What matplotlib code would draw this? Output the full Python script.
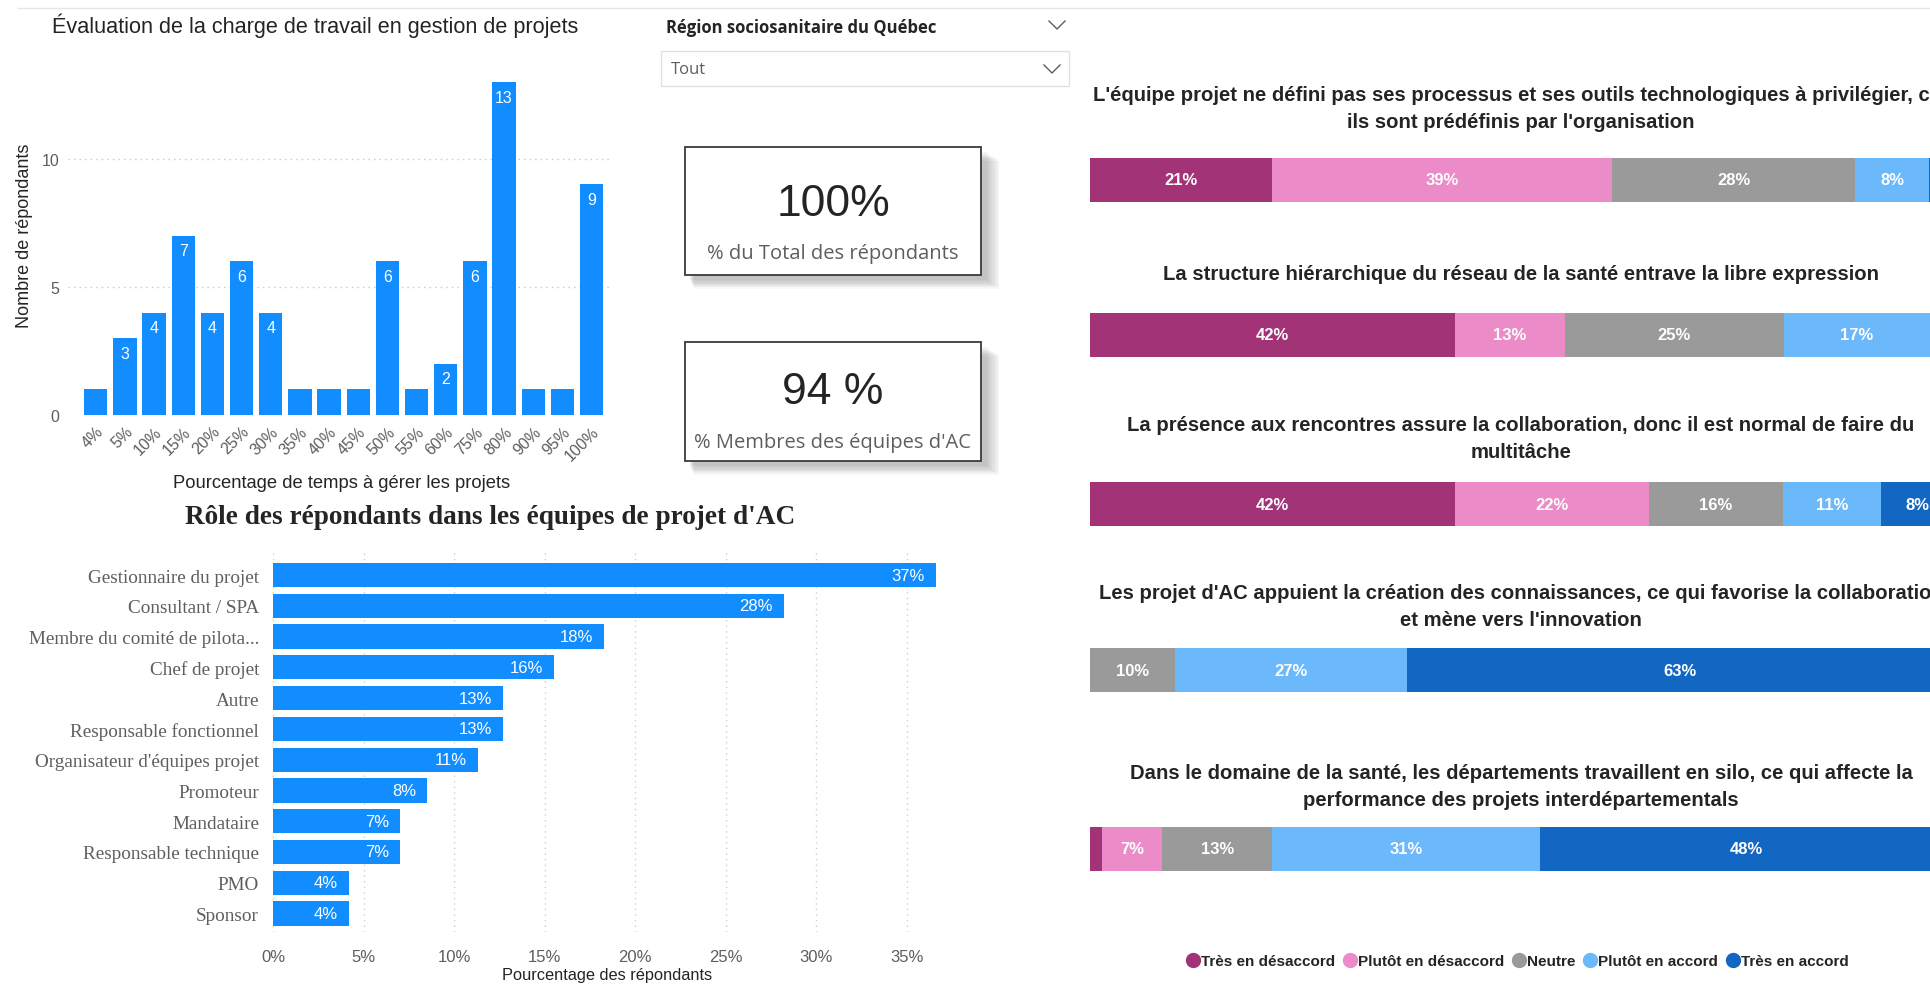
import matplotlib.pyplot as plt
import numpy as np
from matplotlib.lines import Line2D
from matplotlib.patches import Rectangle

# --- data ---
temps_labels = ['4%', '5%', '10%', '15%', '20%', '25%', '30%', '35%', '40%', '45%',
                '50%', '55%', '60%', '75%', '80%', '90%', '95%', '100%']
temps_counts = [1, 3, 4, 7, 4, 6, 4, 1, 1, 1, 6, 1, 2, 6, 13, 1, 1, 9]

roles = ['Gestionnaire du projet', 'Consultant / SPA', 'Membre du comité de pilota...',
         'Chef de projet', 'Autre', 'Responsable fonctionnel', "Organisateur d'équipes projet",
         'Promoteur', 'Mandataire', 'Responsable technique', 'PMO', 'Sponsor']
roles_pct = [36.6, 28.2, 18.3, 15.5, 12.7, 12.7, 11.3, 8.5, 7.0, 7.0, 4.2, 4.2]

questions = [
    "L'équipe projet ne défini pas ses processus et ses outils technologiques à privilégier, car\nils sont prédéfinis par l'organisation",
    "La structure hiérarchique du réseau de la santé entrave la libre expression",
    "La présence aux rencontres assure la collaboration, donc il est normal de faire du\nmultitâche",
    "Les projet d'AC appuient la création des connaissances, ce qui favorise la collaboration\net mène vers l'innovation",
    "Dans le domaine de la santé, les départements travaillent en silo, ce qui affecte la\nperformance des projets interdépartementals",
]
answers = ['Très en désaccord', 'Plutôt en désaccord', 'Neutre', 'Plutôt en accord', 'Très en accord']
tres_desaccord = [21.1, 42.3, 42.3, 0.0, 1.4]
plutot_desaccord = [39.4, 12.7, 22.5, 0.0, 7.0]
neutre = [28.2, 25.4, 15.5, 9.9, 12.7]
plutot_accord = [8.5, 16.9, 11.3, 26.8, 31.0]
tres_accord = [2.8, 2.8, 8.5, 63.4, 47.9]

card_values = ['100%', '94 %']
card_labels = ['% du Total des répondants', "% Membres des équipes d'AC"]

# --- figure helpers (pixel coords, origin top-left) ---
W, H = 1931, 987
NARROW = ['Liberation Sans', 'DejaVu Sans']
SANS = ['Open Sans', 'DejaVu Sans']
SERIF = ['Liberation Serif', 'DejaVu Serif']
plt.rcParams['font.family'] = NARROW

fig = plt.figure(figsize=(W / 100, H / 100), dpi=100)


def box(x0, y0, x1, y1):
    return [x0 / W, 1 - y1 / H, (x1 - x0) / W, (y1 - y0) / H]


def fx(x):
    return x / W


def fy(y):
    return 1 - y / H


def chevron(cx, cy):
    fig.add_artist(Line2D([fx(cx - 8), fx(cx), fx(cx + 8)], [fy(cy - 4), fy(cy + 4), fy(cy - 4)],
                          color='#605E5C', lw=1))


# faint top border
fig.add_artist(Line2D([fx(18), fx(1931)], [fy(9), fy(9)], color='#E6E6E6', lw=1))

# --- histogram: charge de travail ---
fig.text(fx(52), fy(26), 'Évaluation de la charge de travail en gestion de projets',
         fontsize=15.6, color='#252423', ha='left', va='center')
ax1 = fig.add_axes(box(68, 83, 612, 416))
x = np.arange(len(temps_counts))
ax1.bar(x, temps_counts, width=0.8, color='#118DFF', zorder=2)
for xi, v in zip(x, temps_counts):
    if v >= 2:
        ax1.text(xi, v - 0.3, str(v), ha='center', va='top', color='white', fontsize=11.5)
ax1.set_xlim(-0.95, 17.7)
ax1.set_ylim(0, 13)
ax1.set_yticks([0, 5, 10])
for yv in [0, 5, 10]:
    ax1.axhline(yv, color='#C8C8C8', lw=1, ls=(0, (1, 3)), zorder=1)
for s in ax1.spines.values():
    s.set_visible(False)
ax1.set_xticks(x)
ax1.set_xticklabels(temps_labels, rotation=45, ha='right', rotation_mode='anchor')
ax1.tick_params(length=0, labelsize=11.5, colors='#605E5C', pad=6)
fig.text(fx(25), fy(236), 'Nombre de répondants', rotation=90, fontsize=13,
         color='#252423', ha='center', va='center')
fig.text(fx(342), fy(484), 'Pourcentage de temps à gérer les projets', fontsize=13.2,
         color='#252423', ha='center', va='center')

# --- slicer ---
fig.text(fx(666), fy(28), 'Région sociosanitaire du Québec', family=SANS, fontsize=12,
         fontweight='bold', color='#252423', ha='left', va='center')
chevron(1057, 26)
fig.add_artist(Rectangle((fx(661), fy(87)), (1069 - 661) / W, 35 / H, transform=fig.transFigure,
                         fill=False, edgecolor='#E1E1E1', lw=1))
fig.text(fx(671), fy(70), 'Tout', family=SANS, fontsize=12, color='#605E5C', ha='left', va='center')
chevron(1052, 70)

# --- cards ---
cards = [(148, 276, 205, 254), (343, 462, 393, 443)]
for (top, bot, yv, yl), val, lab in zip(cards, card_values, card_labels):
    for k in range(8, 0, -1):
        fig.add_artist(Rectangle((fx(685 + 4 + k * 0.6), fy(bot + 4 + k * 1.2)),
                                 (296 + k * 1.2) / W, (bot - top) / H,
                                 transform=fig.transFigure, color='black', alpha=0.03, lw=0))
    fig.add_artist(Rectangle((fx(685), fy(bot)), 296 / W, (bot - top) / H, transform=fig.transFigure,
                             facecolor='white', edgecolor='#3A3A3A', lw=1.3))
    fig.text(fx(833), fy(yv), val, fontsize=32, color='#252423', ha='center', va='center')
    fig.text(fx(833), fy(yl), lab, family=SANS, fontsize=14.5, color='#605E5C', ha='center', va='center')

# --- horizontal bars: rôles ---
fig.text(fx(490), fy(518), "Rôle des répondants dans les équipes de projet d'AC", family=SERIF,
         fontsize=19.6, fontweight='bold', color='#252423', ha='center', va='center')
ax2 = fig.add_axes(box(273, 552, 952, 933))
y = np.arange(len(roles))
ax2.barh(y, roles_pct, height=0.79, color='#118DFF', zorder=2)
for yi, v in zip(y, roles_pct):
    ax2.text(v - 0.6, yi, f'{v:.0f}%', ha='right', va='center', color='white', fontsize=12)
ax2.set_xlim(0, 37.5)
ax2.set_ylim(11.6, -0.78)
ax2.set_xticks(range(0, 40, 5))
ax2.set_xticklabels([f'{t}%' for t in range(0, 40, 5)])
for t in range(0, 40, 5):
    ax2.axvline(t, color='#D0D0D0', lw=1, ls=(0, (1, 3)), zorder=1)
ax2.set_yticks(y)
ax2.set_yticklabels(roles, family=SERIF, fontsize=13.8)
for s in ax2.spines.values():
    s.set_visible(False)
ax2.tick_params(axis='x', length=0, labelsize=12, colors='#605E5C', pad=12)
ax2.tick_params(axis='y', length=0, colors='#605E5C', pad=10)
fig.text(fx(607), fy(976), 'Pourcentage des répondants', fontsize=11.8, color='#252423',
         ha='center', va='center')

# --- stacked bars: opinions ---
colors = ['#A33377', '#EB8BC8', '#9A9A9A', '#6BB8FA', '#1267C2']
series = [tres_desaccord, plutot_desaccord, neutre, plutot_accord, tres_accord]
bar_centers = [181, 336, 505, 671, 850]
title_centers = [109, 275, 439, 607, 787]
for qi, (q, bc, tc) in enumerate(zip(questions, bar_centers, title_centers)):
    fig.text(fx(1521), fy(tc), q, fontsize=14.6, fontweight='bold', color='#252423',
             ha='center', va='center', linespacing=1.5)
    ax = fig.add_axes(box(1090, bc - 22, 1931, bc + 22))
    left = 0
    for s, c in zip(series, colors):
        v = s[qi]
        if v > 0:
            ax.barh(0, v, left=left, height=1, color=c)
            if v >= 5:
                ax.text(left + v / 2, 0, f'{v:.0f}%', ha='center', va='center',
                        color='white', fontsize=12, fontweight='bold')
        left += v
    ax.set_xlim(0, 97.45)
    ax.set_ylim(-0.5, 0.5)
    ax.axis('off')

handles = [Line2D([], [], marker='o', ls='', markersize=10, markerfacecolor=c, markeredgecolor=c)
           for c in colors]
leg = fig.legend(handles, answers, loc='center', bbox_to_anchor=(fx(1517), fy(962)), ncol=5,
                 frameon=False, handletextpad=0.0, columnspacing=0.5, handlelength=1.0,
                 prop={'size': 11, 'weight': 'bold'})
for t in leg.get_texts():
    t.set_color('#252423')

fig.savefig('out.png', dpi=100)
